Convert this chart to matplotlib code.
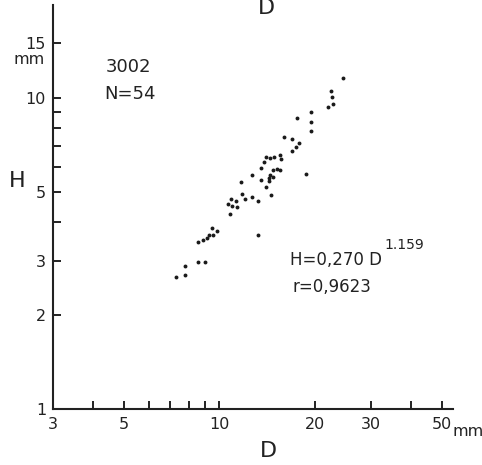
import matplotlib
matplotlib.use("Agg")
import matplotlib.pyplot as plt
from matplotlib.ticker import FixedLocator, FixedFormatter, NullFormatter

# Data (D in mm, H in mm)
D = [24.39, 22.41, 22.57, 22.78, 21.97, 19.39, 17.53, 19.35, 19.46, 15.92,
     16.94, 17.75, 17.46, 16.87, 18.71, 14.01, 13.78, 14.42, 14.84, 15.50,
     15.61, 13.54, 14.70, 15.13, 15.50, 12.66, 14.42, 14.34, 14.76, 13.54,
     14.28, 11.72, 14.01, 14.49, 11.78, 12.03, 12.63, 13.19, 10.88, 11.27,
     10.62, 10.98, 11.37, 10.82, 13.19, 9.46, 9.83, 9.58, 9.27, 9.12,
     8.90, 8.58, 8.58, 9.01, 7.79, 7.79, 7.29]
H = [11.57, 10.53, 10.10, 9.544, 9.376, 9.03, 8.645, 8.355, 7.803, 7.464,
     7.366, 7.150, 6.973, 6.769, 5.696, 6.475, 6.241, 6.399, 6.447, 6.558,
     6.352, 5.970, 5.869, 5.899, 5.869, 5.654, 5.654, 5.542, 5.559, 5.449,
     5.409, 5.370, 5.186, 4.877, 4.902, 4.724, 4.794, 4.665, 4.724, 4.665,
     4.563, 4.495, 4.452, 4.230, 3.627, 3.811, 3.736, 3.622, 3.614, 3.555,
     3.487, 3.443, 2.965, 2.963, 2.889, 2.688, 2.652]

x_major = [3, 5, 10, 20, 30, 50]
x_major_labels = ["3", "5", "10", "20", "30", "50"]
x_minor = [4, 6, 7, 8, 9, 40]
y_major = [1, 2, 3, 5, 10, 15]
y_major_labels = ["1", "2", "3", "5", "10", "15"]
y_minor = [4, 6, 7, 8, 9]

W, Hpx = 482, 465
fig = plt.figure(figsize=(W / 100, Hpx / 100), dpi=100)
ax = fig.add_axes([53 / W, 1 - 409 / Hpx, 400 / W, 404 / Hpx])
ax.set_xscale("log")
ax.set_yscale("log")
ax.set_xlim(3, 54.2)
ax.set_ylim(1, 19.9)

ax.plot(D, H, "o", color="#1a1a1a", markersize=2.8, markeredgewidth=0)

for s in ["top", "right"]:
    ax.spines[s].set_visible(False)
for s in ["left", "bottom"]:
    ax.spines[s].set_linewidth(1.5)
    ax.spines[s].set_color("#222222")

ax.xaxis.set_major_locator(FixedLocator(x_major))
ax.xaxis.set_major_formatter(FixedFormatter(x_major_labels))
ax.xaxis.set_minor_locator(FixedLocator(x_minor))
ax.xaxis.set_minor_formatter(NullFormatter())
ax.yaxis.set_major_locator(FixedLocator(y_major))
ax.yaxis.set_major_formatter(FixedFormatter(y_major_labels))
ax.yaxis.set_minor_locator(FixedLocator(y_minor))
ax.yaxis.set_minor_formatter(NullFormatter())

ax.tick_params(which="both", direction="in", length=6, width=1.4,
               color="#222222", labelsize=11.5, labelcolor="#222222")
ax.tick_params(axis="x", which="both", pad=6)
ax.tick_params(axis="y", which="both", pad=5)

def fx(px):
    return px / W

def fy(py):
    return 1 - py / Hpx

col = "#222222"
fig.text(fx(29), fy(60), "mm", fontsize=11.5, color=col, ha="center", va="center")
fig.text(fx(17), fy(181), "H", fontsize=16, color=col, ha="center", va="center")
fig.text(fx(268), fy(451), "D", fontsize=16, color=col, ha="center", va="center")
fig.text(fx(266), fy(18), "D", fontsize=16, color=col, ha="center", va="bottom")
fig.text(fx(453), fy(431), "mm", fontsize=11.5, color=col, ha="left", va="center")
fig.text(fx(128), fy(67), "3002", fontsize=13, color=col, ha="center", va="center")
fig.text(fx(130), fy(94), "N=54", fontsize=13, color=col, ha="center", va="center")
fig.text(fx(290), fy(260), "H=0,270 D", fontsize=12, color=col, ha="left", va="center")
fig.text(fx(384), fy(245), "1.159", fontsize=10, color=col, ha="left", va="center")
fig.text(fx(293), fy(287), "r=0,9623", fontsize=12, color=col, ha="left", va="center")

fig.savefig("out.png", dpi=100)
